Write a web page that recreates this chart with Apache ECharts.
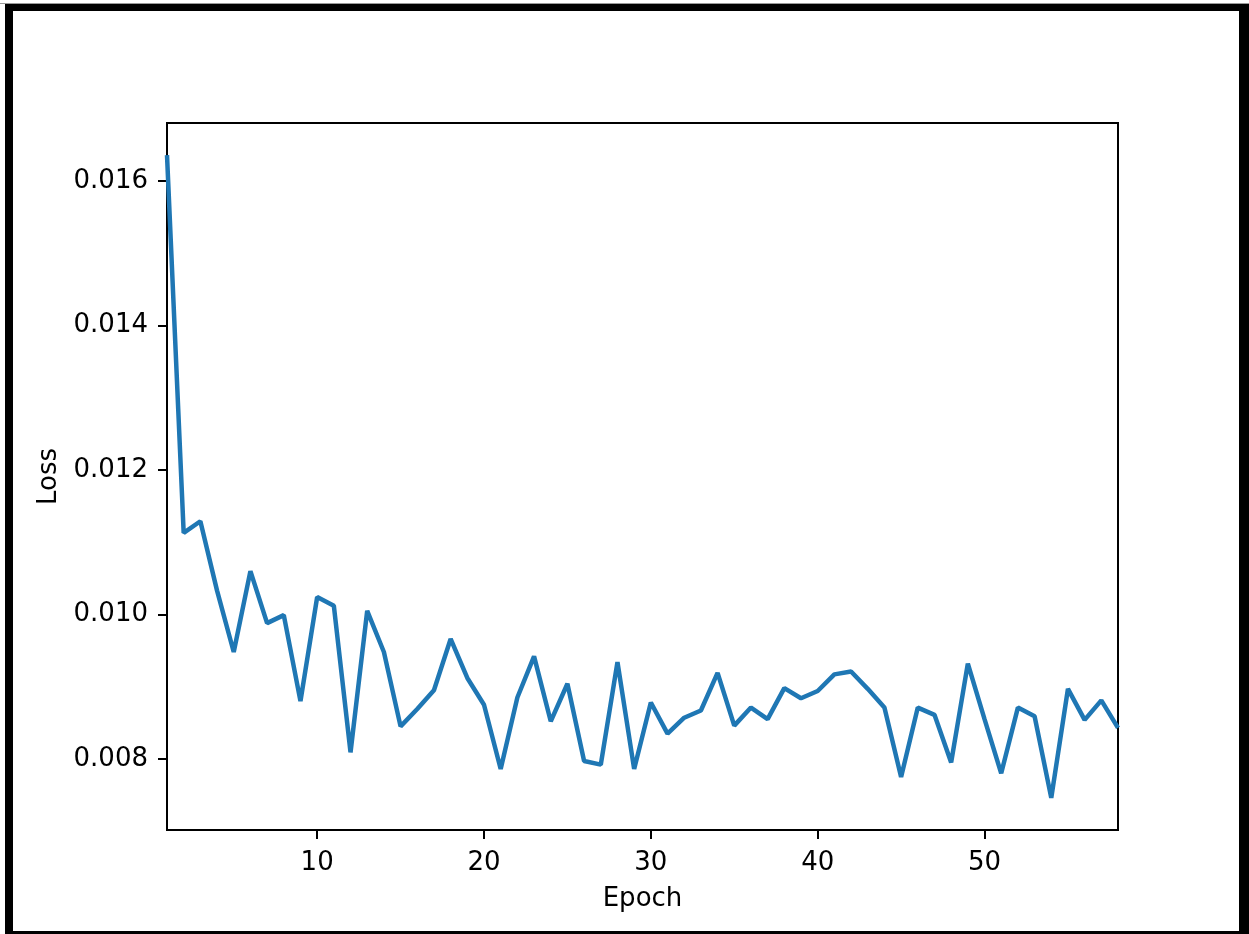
<!DOCTYPE html>
<html>
<head>
<meta charset="utf-8">
<script src="https://cdn.jsdelivr.net/npm/echarts@6/dist/echarts.min.js"></script>
<style>
html,body{margin:0;padding:0;background:#fff;}
#chart{width:1249px;height:934px;position:absolute;left:0;top:0;}
#frame{position:absolute;left:5px;top:4px;width:1244px;height:930px;box-sizing:border-box;
 border-left:8px solid #000;border-top:7px solid #000;border-right:10px solid #000;border-bottom:3px solid #000;pointer-events:none;}
#topline{position:absolute;left:0;top:3px;width:1249px;height:1px;background:#999;}
</style>
</head>
<body>
<div id="chart"></div>
<div id="topline"></div>
<div id="frame"></div>
<script>
const epochs = [];
for (let i = 1; i <= 58; i++) epochs.push(i);
const loss = [
  0.01636, 0.01113, 0.01129, 0.01033, 0.00948, 0.01060, 0.00988, 0.00999, 0.00880, 0.01024,
  0.01012, 0.00809, 0.01005, 0.00948, 0.00845, 0.00869, 0.00895, 0.00966, 0.00912, 0.00875,
  0.00786, 0.00885, 0.00942, 0.00852, 0.00904, 0.00797, 0.00792, 0.00934, 0.00786, 0.00878,
  0.00835, 0.00857, 0.00867, 0.00919, 0.00846, 0.00871, 0.00855, 0.00898, 0.00884, 0.00894,
  0.00917, 0.00921, 0.00897, 0.00871, 0.00775, 0.00871, 0.00861, 0.00795, 0.00932, 0.00855,
  0.00780, 0.00871, 0.00859, 0.00746, 0.00897, 0.00854, 0.00881, 0.00843
];
const xTicks = [10, 20, 30, 40, 50];
const yTicks = [0.008, 0.010, 0.012, 0.014, 0.016];

const chart = echarts.init(document.getElementById('chart'), null, {renderer: 'canvas'});
const font = 'DejaVu Sans';
chart.setOption({
  animation: false,
  backgroundColor: '#fff',
  grid: {left: 167, right: 131, top: 123, bottom: 104, show: true, borderColor: '#000', borderWidth: 2, backgroundColor: '#fff'},
  xAxis: {
    type: 'value', min: 1, max: 58,
    name: 'Epoch', nameLocation: 'middle', nameGap: 56,
    nameTextStyle: {fontFamily: font, fontSize: 26, color: '#000'},
    axisLine: {show: true, onZero: false, lineStyle: {color: '#000', width: 2}},
    axisTick: {show: true, inside: false, length: 9, lineStyle: {color: '#000', width: 2}, customValues: xTicks},
    axisLabel: {fontFamily: font, fontSize: 26, color: '#000', margin: 20, customValues: xTicks},
    splitLine: {show: false}
  },
  yAxis: {
    type: 'value', min: 0.007015, max: 0.016805,
    name: 'Loss', nameLocation: 'middle', nameGap: 104,
    nameTextStyle: {fontFamily: font, fontSize: 26, color: '#000'},
    axisLine: {show: true, onZero: false, lineStyle: {color: '#000', width: 2}},
    axisTick: {show: true, inside: false, length: 9, lineStyle: {color: '#000', width: 2}, customValues: yTicks},
    axisLabel: {fontFamily: font, fontSize: 26, color: '#000', margin: 19, customValues: yTicks,
      formatter: v => v.toFixed(3)},
    splitLine: {show: false}
  },
  series: [{
    type: 'line',
    data: epochs.map((e, i) => [e, loss[i]]),
    showSymbol: false,
    symbol: 'none',
    lineStyle: {color: '#1f77b4', width: 4.5},
    clip: true
  }]
});
</script>
</body>
</html>
